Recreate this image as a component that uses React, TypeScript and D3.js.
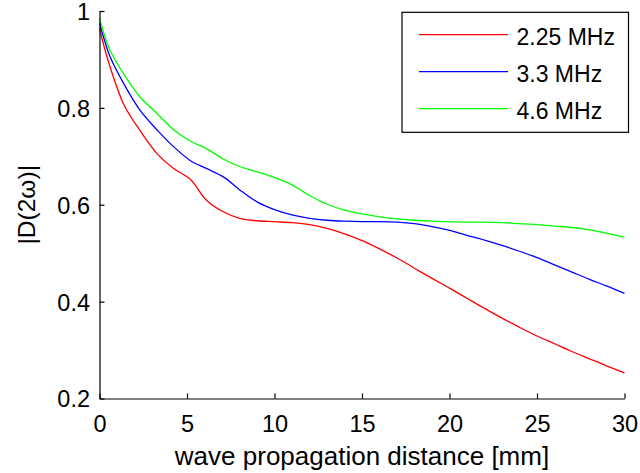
import React, { useEffect, useRef } from 'react';
import * as d3 from 'd3';

// distance along the wave path [mm]
const distance = [0, 0.2, 0.6, 1.4, 2.3, 3.3, 4.2, 5.2, 6.1, 7.1, 8, 9, 10, 11, 12, 13, 14, 15, 16, 17, 18, 19, 20, 21, 22, 23, 24, 25, 26, 27, 28, 29, 30];

const d225 = [0.965, 0.935, 0.885, 0.806, 0.754, 0.705, 0.676, 0.652, 0.61, 0.585, 0.572, 0.567, 0.565, 0.563, 0.559, 0.551, 0.54, 0.526, 0.509, 0.49, 0.469, 0.448, 0.428, 0.407, 0.386, 0.366, 0.347, 0.329, 0.313, 0.297, 0.282, 0.267, 0.253];
const d33 = [0.975, 0.95, 0.906, 0.849, 0.796, 0.754, 0.721, 0.691, 0.675, 0.657, 0.631, 0.606, 0.59, 0.579, 0.572, 0.568, 0.566, 0.565, 0.565, 0.564, 0.561, 0.555, 0.547, 0.537, 0.527, 0.516, 0.504, 0.491, 0.476, 0.461, 0.446, 0.432, 0.417];
const d46 = [0.985, 0.96, 0.919, 0.869, 0.823, 0.788, 0.756, 0.731, 0.716, 0.694, 0.679, 0.668, 0.656, 0.641, 0.619, 0.601, 0.589, 0.581, 0.575, 0.571, 0.568, 0.566, 0.565, 0.564, 0.564, 0.563, 0.561, 0.559, 0.556, 0.553, 0.548, 0.541, 0.533];

const seriesNames = ['2.25 MHz', '3.3 MHz', '4.6 MHz'];
const seriesColors = ['#ff0000', '#0000ff', '#00ff00'];
const xTicks = [0, 5, 10, 15, 20, 25, 30];
const yTicks = [0.2, 0.4, 0.6, 0.8, 1];

const App = () => {
  const ref = useRef<SVGSVGElement>(null);

  useEffect(() => {
    const width = 640, height = 473;
    const left = 99.5, right = 624.5, top = 11, bottom = 398.5;
    const font = 'Liberation Sans, Arial, Helvetica, sans-serif';

    const svg = d3.select(ref.current);
    svg.selectAll('*').remove();
    svg.attr('width', width).attr('height', height);

    const x = d3.scaleLinear().domain([0, 30]).range([left, right]);
    const y = d3.scaleLinear().domain([0.2, 1]).range([bottom, top]);

    // curves
    const all = [d225, d33, d46];
    const line = d3.line<number>().x((d, i) => x(distance[i])).y(d => y(d)).curve(d3.curveCatmullRom.alpha(0.5));
    all.forEach((vals, k) => {
      svg.append('path').attr('d', line(vals)).attr('fill', 'none').attr('stroke', seriesColors[k]).attr('stroke-width', 1.3);
    });

    // axes (ticks point inward, no box)
    const xAxis = svg.append('g').attr('transform', `translate(0,${bottom})`)
      .call(d3.axisBottom(x).tickValues(xTicks).tickSizeInner(-5).tickSizeOuter(0).tickFormat(d3.format('d')));
    const yAxis = svg.append('g').attr('transform', `translate(${left},0)`)
      .call(d3.axisLeft(y).tickValues(yTicks).tickSizeInner(-5).tickSizeOuter(0).tickFormat(d => (d === 1 ? '1' : d3.format('.1f')(d as number))));
    [xAxis, yAxis].forEach(g => {
      g.select('.domain').attr('stroke', '#000').attr('stroke-width', 1.2);
      g.selectAll('.tick line').attr('stroke', '#000').attr('stroke-width', 1.2);
      g.selectAll('.tick text').attr('fill', '#000').style('font-family', font).style('font-size', '23.5px');
    });
    xAxis.selectAll('.tick text').attr('dy', '0.71em').attr('y', 17);
    yAxis.selectAll('.tick text').attr('dy', '0.36em').attr('x', -9.5);

    // axis labels
    svg.append('text').attr('x', (left + right) / 2).attr('y', 465).attr('text-anchor', 'middle')
      .style('font-family', font).style('font-size', '26px').text('wave propagation distance [mm]');
    svg.append('text').attr('transform', `translate(35,${(top + bottom) / 2}) rotate(-90)`).attr('text-anchor', 'middle')
      .style('font-family', font).style('font-size', '24.5px').text('|D(2ω)|');

    // legend
    const legend = svg.append('g');
    legend.append('rect').attr('x', 402).attr('y', 12.3).attr('width', 226.5).attr('height', 120)
      .attr('fill', '#fff').attr('stroke', '#000').attr('stroke-width', 1.2);
    seriesNames.forEach((name, k) => {
      const ly = 34.7 + k * 37;
      legend.append('line').attr('x1', 419).attr('x2', 508).attr('y1', ly).attr('y2', ly)
        .attr('stroke', seriesColors[k]).attr('stroke-width', 1.3);
      legend.append('text').attr('x', 516.5).attr('y', ly + 10.5)
        .style('font-family', font).style('font-size', '23px').text(name);
    });
  }, []);

  return (
    <div style={{ position: 'absolute', left: 0, top: 0 }}>
      <svg ref={ref} style={{ display: 'block' }}></svg>
    </div>
  );
};

export default App;
